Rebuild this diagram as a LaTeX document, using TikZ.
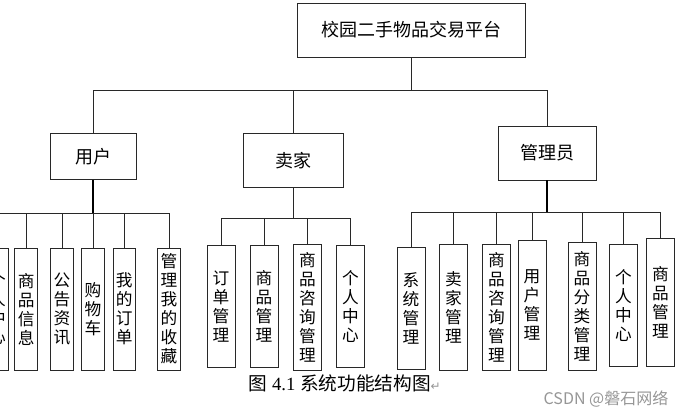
\documentclass[tikz,border=0pt]{standalone}
\usepackage{fontspec}
\usepackage{tikz}
\usetikzlibrary{calc}
\usetikzlibrary{positioning}
\setmainfont{Liberation Serif}
\newfontfamily\cjk{Noto Sans CJK SC}
\newfontfamily\symb{DejaVu Sans}
\definecolor{inkline}{RGB}{40, 40, 40}
\definecolor{marktext}{RGB}{150, 150, 150}

\begin{document}
\begin{tikzpicture}[x=0.75pt, y=-0.75pt,
    box/.style={draw=inkline, line width=0.65pt, inner sep=0pt, align=center, text=black},
    topbox/.style={box, minimum width=171pt, minimum height=40.5pt, font=\cjk\fontsize{13.5}{16}\selectfont},
    midbox/.style={box, minimum height=35pt, font=\cjk\fontsize{13.5}{16}\selectfont},
    leafbox/.style={box, minimum width=21pt, font=\cjk\fontsize{12.5}{14.25}\selectfont},
    link/.style={draw=inkline, line width=0.65pt},
    stem/.style={draw=black, line width=1.2pt}]
    \useasboundingbox (0,0) rectangle (688,417);

    % top and first level
    \node[topbox]                                          (root)  at (411, 30)    {校园二手物品交易平台};
    \node[midbox, minimum width=64.5pt]                    (user)  at ( 93, 156.5) {用户};
    \node[midbox, minimum width=75pt, minimum height=41pt] (sell)  at (293, 160.5) {卖家};
    \node[midbox, minimum width=73.5pt, minimum height=40.5pt] (admin) at (547, 153) {管理员};

    % user leaves
    \node[leafbox, minimum width=17pt, minimum height=91.5pt] (u1) at ( -2.5, 309) {个\\人\\中\\心};
    \node[leafbox, minimum width=17pt, minimum height=91.5pt] (u2) at ( 26.2, 309) {商\\品\\信\\息};
    \node[leafbox, minimum width=17pt, minimum height=91.5pt] (u3) at ( 62,   309) {公\\告\\资\\讯};
    \node[leafbox, minimum width=17pt, minimum height=91.5pt] (u4) at ( 93,   309) {购\\物\\车};
    \node[leafbox, minimum width=17pt, minimum height=91.5pt] (u5) at (124.3, 309) {我\\的\\订\\单};
    \node[leafbox, minimum width=17pt, minimum height=91.5pt] (u6) at (169,   309) {管\\理\\我\\的\\收\\藏};

    % seller leaves
    \node[leafbox, minimum height=92pt]   (s1) at (221,   306.5) {订\\单\\管\\理};
    \node[leafbox, minimum height=92pt]   (s2) at (264,   306.5) {商\\品\\管\\理};
    \node[leafbox, minimum height=94.5pt] (s3) at (307.5, 307)   {商\\品\\咨\\询\\管\\理};
    \node[leafbox, minimum height=92pt]   (s4) at (350.5, 306.5) {个\\人\\中\\心};

    % admin leaves
    \node[leafbox, minimum height=92pt]   (a1) at (411,   308.5) {系\\统\\管\\理};
    \node[leafbox, minimum height=94.5pt] (a2) at (453.5, 307)   {卖\\家\\管\\理};
    \node[leafbox, minimum height=94.5pt] (a3) at (496.5, 307)   {商\\品\\咨\\询\\管\\理};
    \node[leafbox, minimum height=97.5pt] (a4) at (532,   305)   {用\\户\\管\\理};
    \node[leafbox, minimum height=96pt]   (a5) at (582,   306)   {商\\品\\分\\类\\管\\理};
    \node[leafbox, minimum height=92pt]   (a6) at (623.5, 305.5) {个\\人\\中\\心};
    \node[leafbox, minimum height=96.5pt] (a7) at (660.5, 302.5) {商\\品\\管\\理};

    % buses
    \coordinate (rootbus)  at (411, 90);
    \coordinate (userbus)  at ( 93, 213);
    \coordinate (sellbus)  at (293, 218);
    \coordinate (adminbus) at (547, 212);

    \draw[link] (root.south) -- (rootbus);
    \foreach \n in {user, sell, admin}
        \draw[link] (rootbus) -| (\n.north);

    \draw[stem] (user.south)  -- (userbus);
    \draw[link] (sell.south)  -- (sellbus);
    \draw[stem] (admin.south) -- (adminbus);
    \foreach \n in {u1, u2, u3, u4, u5, u6}
        \draw[link] (userbus) -| (\n.north);
    \foreach \n in {s1, s2, s3, s4}
        \draw[link] (sellbus) -| (\n.north);
    \foreach \n in {a1, a2, a3, a4, a5, a6, a7}
        \draw[link] (adminbus) -| (\n.north);

    % caption and mark
    \node[anchor=west, font=\fontsize{14}{16}\selectfont] (cap) at (244, 383)
        {{\cjk 图} 4.1 {\cjk 系统功能结构图}{\symb\color{marktext}\fontsize{9}{10}\selectfont ↵}};
    \node[anchor=east, text=marktext, font=\cjk\fontsize{12}{14}\selectfont] (mark) at (673, 399)
        {CSDN @磐石网络};
\end{tikzpicture}
\end{document}
